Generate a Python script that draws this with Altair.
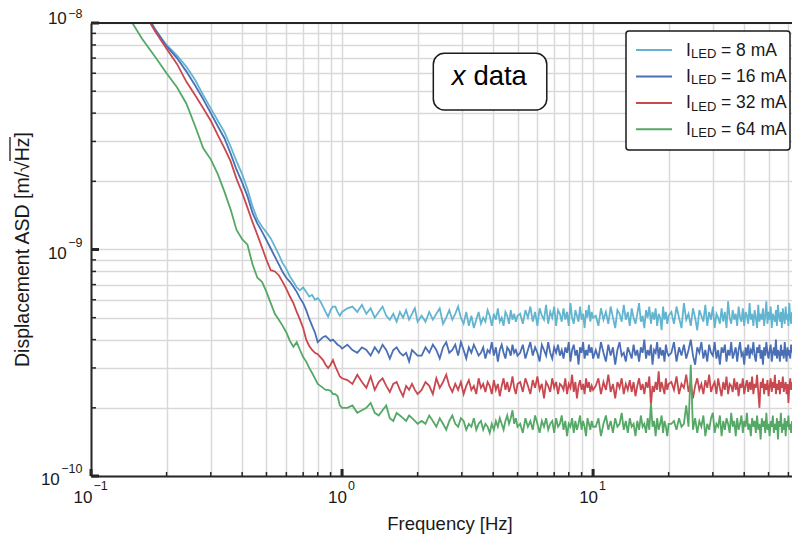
import altair as alt
import pandas as pd

# ---------------- data (ASD values in units of 1e-10 m/sqrt(Hz)) ----------------
FREQ_LOW = [0.12, 0.14, 0.16, 0.18, 0.20, 0.22, 0.24, 0.26, 0.28, 0.30,
            0.32, 0.34, 0.36, 0.38, 0.40, 0.42, 0.44, 0.46, 0.48, 0.50,
            0.52, 0.54, 0.56, 0.58, 0.60, 0.62, 0.64, 0.66, 0.68, 0.70,
            0.72, 0.74, 0.76, 0.78, 0.80, 0.82, 0.84, 0.86, 0.88, 0.90,
            0.92, 0.94, 0.96, 0.98, 1.00]
FREQ_B = [1.05, 1.10, 1.15, 1.20, 1.25, 1.30, 1.35, 1.40, 1.45, 1.50,
          1.55, 1.60, 1.65, 1.70, 1.75, 1.80, 1.85, 1.90, 1.95, 2.00]
FREQ_C = [2.075, 2.15, 2.225, 2.3, 2.375, 2.45, 2.525, 2.6, 2.675, 2.75,
          2.825, 2.9, 2.975, 3.05, 3.125, 3.2, 3.275, 3.35, 3.425, 3.5,
          3.575, 3.65, 3.725, 3.8, 3.875, 3.95, 4.025, 4.1, 4.175, 4.25,
          4.325, 4.4, 4.475, 4.55, 4.625, 4.7, 4.775, 4.85, 4.925, 5.0]
FREQ_D = [5.125, 5.25, 5.375, 5.5, 5.625, 5.75, 5.875, 6.0, 6.125, 6.25,
          6.375, 6.5, 6.625, 6.75, 6.875, 7.0, 7.125, 7.25, 7.375, 7.5,
          7.625, 7.75, 7.875, 8.0, 8.125, 8.25, 8.375, 8.5, 8.625, 8.75,
          8.875, 9.0, 9.125, 9.25, 9.375, 9.5, 9.625, 9.75, 9.875, 10.0]
FREQ_E = [10.25, 10.5, 10.75, 11.0, 11.25, 11.5, 11.75, 12.0, 12.25, 12.5,
          12.75, 13.0, 13.25, 13.5, 13.75, 14.0, 14.25, 14.5, 14.75, 15.0,
          15.25, 15.5, 15.75, 16.0, 16.25, 16.5, 16.75, 17.0, 17.25, 17.5,
          17.75, 18.0, 18.25, 18.5, 18.75, 19.0, 19.25, 19.5, 19.75, 20.0]
FREQ_F = [20.5, 21.0, 21.5, 22.0, 22.5, 23.0, 23.5, 24.0, 24.5, 25.0,
          25.5, 26.0, 26.5, 27.0, 27.5, 28.0, 28.5, 29.0, 29.5, 30.0,
          30.5, 31.0, 31.5, 32.0, 32.5, 33.0, 33.5, 34.0, 34.5, 35.0,
          35.5, 36.0, 36.5, 37.0, 37.5, 38.0, 38.5, 39.0, 39.5, 40.0,
          40.5, 41.0, 41.5, 42.0, 42.5, 43.0, 43.5, 44.0, 44.5, 45.0,
          45.5, 46.0, 46.5, 47.0, 47.5, 48.0, 48.5, 49.0, 49.5, 50.0,
          50.5, 51.0, 51.5, 52.0, 52.5, 53.0, 53.5, 54.0, 54.5, 55.0,
          55.5, 56.0, 56.5, 57.0, 57.5, 58.0, 58.5, 59.0, 59.5, 60.0,
          60.5, 61.0, 61.5, 62.0]

ASD_8MA = [
    195, 150, 114, 93, 80, 72, 64, 56, 48, 42,
    37, 33, 28.5, 24.5, 21.5, 18.5, 15.5, 13.6, 12.6, 11.9,
    11.2, 10.3, 9.5, 8.7, 8.2, 7.6, 7.2, 6.8, 6.6, 6.8,
    6.5, 6.2, 6.3, 6.0, 6.1, 5.9, 5.6, 5.3, 5.05, 5.4,
    5.6, 5.6, 5.3, 5.1, 5.3,
    5.5, 5.6, 5.3, 5.7, 5.2, 5.5, 5.0, 5.3, 5.6, 5.1,
    4.9, 5.2, 4.8, 5.3, 5.0, 5.4, 4.9, 5.2, 5.5, 4.8,
    5.1, 4.8, 5.3, 4.9, 5.2, 5.5, 4.7, 5.0, 5.4, 4.9,
    5.2, 5.6, 5.0, 4.7, 5.3, 4.6, 5.1, 4.5, 4.9, 5.3,
    4.7, 5.0, 4.8, 5.4, 5.1, 4.6, 5.2, 4.9, 5.5, 4.8,
    5.0, 4.6, 5.3, 5.1, 4.7, 5.4, 4.9, 5.2, 4.8, 5.1,
    5.2, 4.7, 5.4, 5.0, 5.6, 4.8, 5.3, 4.6, 5.5, 5.1,
    4.9, 5.7, 4.7, 5.3, 5.0, 5.6, 4.6, 5.4, 5.2, 4.8,
    5.5, 4.9, 5.3, 4.6, 5.8, 5.0, 4.7, 5.4, 5.1, 4.8,
    5.6, 4.9, 5.2, 4.5, 5.4, 5.0, 5.7, 4.8, 5.3, 5.0,
    5.1, 4.6, 5.5, 4.9, 5.3, 4.7, 5.6, 5.0, 4.5, 5.4,
    5.2, 4.8, 5.7, 4.9, 5.3, 4.6, 5.5, 5.0, 4.7, 5.2,
    5.8, 4.8, 5.1, 4.5, 5.4, 5.0, 5.6, 4.7, 5.3, 4.9,
    5.5, 4.6, 5.2, 5.0, 4.4, 5.6, 4.9, 5.3, 4.7, 5.1,
    5.3, 4.7, 5.6, 5.0, 4.5, 5.8, 4.9, 5.2, 4.6, 5.5,
    5.0, 4.4, 5.4, 5.1, 4.8, 5.7, 4.6, 5.3, 4.9, 5.6,
    4.5, 5.2, 5.0, 4.7, 5.5, 4.8, 5.3, 4.5, 5.9, 5.0,
    4.7, 5.4, 4.9, 5.2, 4.6, 5.6, 5.0, 4.8, 5.5, 4.6,
    5.3, 5.1, 4.7, 5.8, 4.9, 5.2, 4.6, 5.4, 5.0, 4.5,
    5.7, 4.8, 5.2, 4.9, 5.5, 4.6, 5.1, 5.9, 4.7, 5.3,
    4.9, 5.6, 4.5, 5.2, 5.0, 4.8, 5.4, 4.6, 5.7, 5.1,
    4.8, 5.3, 4.5, 5.5, 5.0, 4.7, 5.6, 4.9, 5.2, 4.6,
    5.8, 5.0, 4.7, 5.3]

ASD_16MA = [
    205, 155, 118, 94, 79, 70, 61, 53, 46, 40,
    35, 31, 26.5, 22.5, 19.8, 17.2, 14.5, 13.0, 12.0, 11.0,
    10.1, 9.3, 8.6, 7.95, 7.5, 7.2, 6.85, 6.5, 6.1, 5.8,
    5.4, 4.95, 4.6, 4.3, 3.9, 4.0, 4.1, 4.15, 4.05, 3.95,
    4.0, 3.9, 3.8, 3.75, 3.65,
    3.8, 3.6, 3.5, 3.7, 3.6, 3.4, 3.7, 3.5, 3.8, 3.6,
    3.3, 3.6, 3.7, 3.5, 3.4, 3.5, 3.2, 3.6, 3.5, 3.4,
    3.4, 3.7, 3.5, 3.8, 3.6, 3.3, 3.7, 3.9, 3.5, 3.6,
    3.8, 3.4, 3.9, 3.6, 3.3, 3.7, 3.5, 3.8, 3.6, 3.4,
    3.5, 3.7, 3.3, 3.6, 3.5, 3.9, 3.4, 3.7, 3.2, 3.6,
    3.8, 3.5, 3.3, 3.7, 3.6, 3.4, 3.8, 3.5, 3.6, 3.4,
    3.5, 3.8, 3.3, 3.6, 3.9, 3.4, 3.7, 3.5, 3.2, 3.8,
    3.6, 3.4, 3.9, 3.5, 3.3, 3.7, 3.5, 3.8, 3.4, 3.6,
    3.3, 3.7, 3.5, 3.9, 3.2, 3.6, 3.8, 3.4, 3.6, 3.1,
    3.7, 3.5, 3.9, 3.3, 3.6, 3.4, 3.8, 3.5, 3.7, 3.3,
    3.6, 3.3, 3.9, 3.5, 3.2, 3.8, 3.4, 3.7, 3.1, 3.6,
    3.9, 3.4, 3.5, 3.2, 3.7, 3.5, 3.3, 3.8, 3.4, 3.6,
    3.2, 3.7, 3.5, 4.0, 3.3, 3.6, 3.4, 3.8, 3.1, 3.6,
    3.5, 3.9, 3.3, 3.7, 3.4, 3.6, 3.2, 3.8, 3.5, 3.4,
    3.5, 3.9, 3.2, 3.7, 3.4, 3.8, 3.3, 3.6, 4.0, 3.4,
    3.1, 3.7, 3.5, 3.9, 3.3, 3.6, 3.2, 3.8, 3.5, 3.4,
    3.9, 3.3, 3.6, 3.1, 3.7, 3.5, 3.8, 3.2, 3.6, 3.4,
    3.9, 3.3, 3.5, 3.7, 3.2, 3.6, 3.9, 3.4, 3.5, 3.1,
    3.7, 3.4, 3.8, 3.3, 3.6, 3.5, 3.9, 3.4, 3.2, 3.7,
    3.5, 3.8, 3.3, 3.6, 3.1, 3.7, 3.4, 3.9, 3.5, 3.3,
    3.6, 3.8, 3.2, 3.5, 3.7, 3.4, 4.0, 3.3, 3.6, 3.5,
    3.2, 3.8, 3.4, 3.6, 3.3, 3.9, 3.5, 3.2, 3.7, 3.4,
    3.6, 3.3, 3.8, 3.5]

ASD_32MA = [
    200, 150, 115, 92, 77, 66, 55, 48, 42, 37,
    32, 28, 24.5, 20.5, 17.8, 15.3, 13.2, 11.6, 10.2, 9.0,
    8.1, 8.0, 7.7, 7.2, 6.7, 6.2, 5.8, 5.3, 4.9, 4.5,
    4.0, 3.75, 3.6, 3.5, 3.45, 3.35, 3.25, 3.1, 3.0, 3.1,
    3.25, 3.05, 2.9, 2.75, 2.7,
    2.65, 2.55, 2.8, 2.6, 2.45, 2.75, 2.4, 2.6, 2.7, 2.5,
    2.35, 2.55, 2.6, 2.4, 2.25, 2.5, 2.4, 2.55, 2.4, 2.3,
    2.4, 2.6, 2.5, 2.3, 2.7, 2.45, 2.6, 2.8, 2.5, 2.35,
    2.55, 2.4, 2.6, 2.3, 2.5, 2.65, 2.4, 2.5, 2.3, 2.7,
    2.45, 2.55, 2.35, 2.6, 2.5, 2.3, 2.65, 2.4, 2.55, 2.25,
    2.5, 2.7, 2.4, 2.6, 2.35, 2.5, 2.75, 2.45, 2.3, 2.55,
    2.6, 2.35, 2.7, 2.5, 2.3, 2.65, 2.45, 2.75, 2.4, 2.55,
    2.2, 2.6, 2.5, 2.35, 2.7, 2.45, 2.6, 2.3, 2.55, 2.5,
    2.4, 2.7, 2.3, 2.55, 2.45, 2.8, 2.35, 2.6, 2.2, 2.5,
    2.65, 2.4, 2.55, 2.3, 2.7, 2.45, 2.6, 2.35, 2.5, 2.4,
    2.5, 2.7, 2.3, 2.6, 2.4, 2.8, 2.35, 2.55, 2.2, 2.6,
    2.45, 2.7, 2.3, 2.55, 2.4, 2.65, 2.35, 2.6, 2.25, 2.5,
    2.7, 2.4, 2.55, 2.3, 2.6, 2.45, 2.75, 2.05, 2.5, 2.35,
    2.6, 2.4, 2.9, 2.35, 2.6, 2.45, 2.3, 2.7, 2.4, 2.55,
    2.6, 2.4, 2.75, 2.3, 2.55, 2.45, 2.8, 2.35, 2.6, 2.2,
    2.5, 2.7, 2.4, 2.55, 2.3, 2.65, 2.45, 2.8, 2.35, 2.5,
    2.6, 2.3, 2.7, 2.45, 2.25, 2.6, 2.4, 2.75, 2.3, 2.55,
    2.5, 2.35, 2.7, 2.4, 2.6, 2.25, 2.55, 2.45, 2.7, 2.3,
    2.5, 2.65, 2.35, 2.6, 2.4, 2.75, 2.3, 2.55, 2.45, 2.8,
    2.35, 2.0, 2.6, 2.45, 2.7, 2.3, 2.55, 2.4, 2.65, 2.25,
    2.5, 2.7, 2.35, 2.6, 2.45, 2.8, 2.3, 2.55, 2.4, 2.65,
    2.3, 2.6, 2.45, 2.75, 2.35, 2.5, 2.6, 2.3, 2.55, 2.1,
    2.5, 2.7, 2.4, 2.6]

ASD_64MA = [
    160, 108, 85, 71, 60, 52, 44, 35, 28, 25,
    21.5, 18, 15, 12.2, 11.1, 10.5, 8.6, 7.5, 7.2, 6.5,
    5.8, 5.2, 4.9, 4.6, 4.3, 3.95, 3.72, 3.9, 3.6, 3.35,
    3.2, 3.0, 2.85, 2.7, 2.55, 2.5, 2.45, 2.4, 2.4, 2.38,
    2.3, 2.3, 2.25, 2.05, 2.0,
    2.0, 2.05, 1.9, 1.95, 2.0, 2.1, 1.9, 1.85, 1.95, 2.05,
    1.8, 1.75, 1.9, 1.85, 1.8, 1.75, 1.85, 1.8, 1.75, 1.7,
    1.75, 1.7, 1.85, 1.75, 1.65, 1.8, 1.7, 1.6, 1.75, 1.85,
    1.7, 1.65, 1.8, 1.75, 1.6, 1.7, 1.65, 1.8, 1.6, 1.7,
    1.75, 1.6, 1.7, 1.65, 1.55, 1.7, 1.6, 1.75, 1.65, 1.8,
    1.7, 1.6, 1.75, 1.85, 1.7, 1.8, 1.95, 1.7, 1.8, 1.65,
    1.7, 1.55, 1.8, 1.65, 1.75, 1.6, 1.85, 1.7, 1.55, 1.75,
    1.65, 1.8, 1.6, 1.7, 1.75, 1.55, 1.8, 1.65, 1.7, 1.85,
    1.6, 1.75, 1.5, 1.7, 1.65, 1.8, 1.55, 1.75, 1.6, 1.7,
    1.85, 1.6, 1.75, 1.65, 1.5, 1.8, 1.7, 1.6, 1.75, 1.65,
    1.65, 1.8, 1.5, 1.7, 1.85, 1.6, 1.75, 1.55, 1.8, 1.65,
    1.7, 1.9, 1.6, 1.75, 1.55, 1.8, 1.65, 1.7, 1.5, 1.75,
    1.6, 1.85, 1.65, 1.7, 1.55, 1.8, 1.6, 2.1, 1.65, 1.75,
    1.5, 1.8, 1.6, 1.7, 1.85, 1.55, 1.75, 1.65, 1.5, 1.7,
    1.7, 1.75, 1.6, 1.8, 1.65, 1.7, 2.05, 1.65, 3.1, 1.6,
    1.8, 1.55, 1.75, 1.65, 1.85, 1.5, 1.7, 1.6, 1.8, 1.9,
    1.55, 1.7, 1.65, 1.85, 1.5, 1.75, 1.6, 1.8, 1.7, 1.55,
    1.9, 1.65, 1.75, 1.5, 1.8, 1.6, 1.7, 1.85, 1.55, 1.75,
    1.65, 1.9, 1.6, 1.7, 1.5, 1.8, 1.65, 1.75, 1.55, 1.85,
    1.6, 1.7, 1.45, 1.8, 1.65, 1.75, 1.55, 1.9, 1.6, 1.7,
    1.5, 1.75, 1.65, 1.85, 1.55, 1.7, 1.6, 1.8, 1.45, 1.75,
    1.65, 1.9, 1.55, 1.7, 1.6, 1.8, 1.5, 1.75, 1.65, 1.85,
    1.6, 1.7, 1.55, 1.75]

SERIES = ["8 mA", "16 mA", "32 mA", "64 mA"]
COLORS = ["#62b5d0", "#4a6fb5", "#c9484f", "#55a866"]

XGRID = [0.1, 0.2, 0.3, 0.4, 0.5, 0.6, 0.7, 0.8, 0.9,
         1, 2, 3, 4, 5, 6, 7, 8, 9, 10, 20, 30, 40, 50, 60]
YGRID = [1e-10, 2e-10, 3e-10, 4e-10, 5e-10, 6e-10, 7e-10, 8e-10, 9e-10,
         1e-9, 2e-9, 3e-9, 4e-9, 5e-9, 6e-9, 7e-9, 8e-9, 9e-9, 1e-8]
XMAJOR = [0.1, 1, 10]
YMAJOR = [1e-10, 1e-9, 1e-8]

# annotation box "x data" (data coordinates)
BOX_F = [2.31, 6.54]
BOX_V = [7.35e-9, 4.13e-9]
TXT_F = [2.735, 3.336]
TXT_V = 5.32e-9

# ---------------- build ----------------
FREQ = FREQ_LOW + FREQ_B + FREQ_C + FREQ_D + FREQ_E + FREQ_F
ALL = [ASD_8MA, ASD_16MA, ASD_32MA, ASD_64MA]
for a in ALL:
    assert len(a) == len(FREQ), (len(a), len(FREQ))

FONT = "Liberation Sans"
INK = "#1a1a1a"
W, H = 701, 453

xscale = alt.Scale(type="log", domain=[0.1, 62.0], nice=False)
yscale = alt.Scale(type="log", domain=[1e-10, 1e-8], nice=False)
xaxis = alt.Axis(values=XGRID, title=None, labels=False, ticks=False, grid=True,
                 gridColor="#d9d9d9", gridWidth=1.5, domain=True,
                 domainColor="#262626", domainWidth=2)
yaxis = alt.Axis(values=YGRID, title=None, labels=False, ticks=False, grid=True,
                 gridColor="#d9d9d9", gridWidth=1.5, domain=True,
                 domainColor="#262626", domainWidth=2)

X = lambda fld: alt.X(fld, scale=xscale, axis=xaxis)
Y = lambda fld: alt.Y(fld, scale=yscale, axis=yaxis)
one = pd.DataFrame({"k": [0]})

layers = []
for name, color, vals in zip(SERIES, COLORS, ALL):
    d = pd.DataFrame({"f": FREQ, "asd": [v * 1e-10 for v in vals]})
    layers.append(alt.Chart(d).mark_line(clip=True, strokeWidth=1.8, color=color)
                  .encode(x=X("f:Q"), y=Y("asd:Q")))

# ticks (inward)
xminor = pd.DataFrame({"t": [v for v in XGRID if v not in XMAJOR]})
xmajor = pd.DataFrame({"t": XMAJOR})
yminor = pd.DataFrame({"t": [v for v in YGRID if v not in YMAJOR]})
ymajor = pd.DataFrame({"t": YMAJOR})
layers.append(alt.Chart(xminor).mark_rule(color="#262626", strokeWidth=1.5)
              .encode(x=X("t:Q"), y=alt.value(H), y2=alt.value(H - 4)))
layers.append(alt.Chart(xmajor).mark_rule(color="#262626", strokeWidth=3)
              .encode(x=X("t:Q"), y=alt.value(H), y2=alt.value(H - 7)))
layers.append(alt.Chart(yminor).mark_rule(color="#262626", strokeWidth=1.5)
              .encode(y=Y("t:Q"), x=alt.value(0), x2=alt.value(5)))
layers.append(alt.Chart(ymajor).mark_rule(color="#262626", strokeWidth=3)
              .encode(y=Y("t:Q"), x=alt.value(0), x2=alt.value(8)))
# top border
layers.append(alt.Chart(one).mark_rule(color="#262626", strokeWidth=2)
              .encode(x=alt.value(0), x2=alt.value(W), y=alt.value(0)))

# x tick labels 10^n
for t, ex, bdx in [(0.1, "\u22121", 1.5), (1, "0", 5), (10, "1", 5)]:
    d = pd.DataFrame({"t": [t]})
    layers.append(alt.Chart(d).mark_text(text="10", font=FONT, fontSize=17, color=INK,
                                         align="right", baseline="alphabetic", dx=bdx)
                  .encode(x=X("t:Q"), y=alt.value(H + 26.5)))
    layers.append(alt.Chart(d).mark_text(text=ex, font=FONT, fontSize=12.5, color=INK,
                                         align="left", baseline="alphabetic", dx=bdx + 1)
                  .encode(x=X("t:Q"), y=alt.value(H + 14)))

# y tick labels 10^n
for t, ex, bdy, edy, ew in [(1e-8, "\u22128", 0.5, -5, 14.2), (1e-9, "\u22129", 9, -3, 14.2),
                            (1e-10, "\u221210", 9, -3, 21.2)]:
    d = pd.DataFrame({"t": [t]})
    layers.append(alt.Chart(d).mark_text(text=ex, font=FONT, fontSize=12.5, color=INK,
                                         align="right", baseline="alphabetic", dy=edy)
                  .encode(y=Y("t:Q"), x=alt.value(-8.5)))
    layers.append(alt.Chart(d).mark_text(text="10", font=FONT, fontSize=17, color=INK,
                                         align="right", baseline="alphabetic", dy=bdy)
                  .encode(y=Y("t:Q"), x=alt.value(-8.5 - ew - 1.5)))

# axis titles
layers.append(alt.Chart(one).mark_text(text="Frequency [Hz]", font=FONT, fontSize=18.5,
                                       color=INK, align="center", baseline="alphabetic")
              .encode(x=alt.value(359), y=alt.value(H + 53.5)))
layers.append(alt.Chart(one).mark_text(text="Displacement ASD [m/\u221aHz]", font=FONT,
                                       fontSize=19.5, color=INK, align="center",
                                       baseline="alphabetic", angle=270)
              .encode(x=alt.value(-62), y=alt.value(H / 2)))
# overline of the square root (over "Hz")
layers.append(alt.Chart(one).mark_rule(color=INK, strokeWidth=1.3)
              .encode(x=alt.value(-81), y=alt.value(114), y2=alt.value(138)))

# annotation box
box = pd.DataFrame({"f1": [BOX_F[0]], "f2": [BOX_F[1]], "v1": [BOX_V[0]], "v2": [BOX_V[1]]})
layers.append(alt.Chart(box).mark_rect(fill="white", stroke="#1a1a1a", strokeWidth=1.5,
                                       cornerRadius=11)
              .encode(x=X("f1:Q"), x2="f2:Q", y=Y("v1:Q"), y2="v2:Q"))
txt = pd.DataFrame({"f": TXT_F, "v": [TXT_V, TXT_V]})
layers.append(alt.Chart(txt.iloc[[0]]).mark_text(text="x", font=FONT, fontSize=27.5,
                                                 fontStyle="italic", color="black",
                                                 align="left", baseline="alphabetic")
              .encode(x=X("f:Q"), y=Y("v:Q")))
layers.append(alt.Chart(txt.iloc[[1]]).mark_text(text="data", font=FONT, fontSize=27.5,
                                                 color="black", align="left",
                                                 baseline="alphabetic")
              .encode(x=X("f:Q"), y=Y("v:Q")))

# legend (custom, for the subscript)
LX = -4
layers.append(alt.Chart(one).mark_rect(fill="white", stroke="#1a1a1a", strokeWidth=1.5,
                                       cornerRadius=3)
              .encode(x=alt.value(539 + LX), x2=alt.value(699), y=alt.value(8), y2=alt.value(127)))
for i, (name, color) in enumerate(zip(SERIES, COLORS)):
    ry = 27 + 26.45 * i
    layers.append(alt.Chart(one).mark_rule(color=color, strokeWidth=2)
                  .encode(x=alt.value(549 + LX), x2=alt.value(585 + LX), y=alt.value(ry)))
    layers.append(alt.Chart(one).mark_text(text="I", font=FONT, fontSize=17.5, color=INK,
                                           align="left", baseline="alphabetic")
                  .encode(x=alt.value(599 + LX), y=alt.value(ry + 5.5)))
    layers.append(alt.Chart(one).mark_text(text="LED", font=FONT, fontSize=13, color=INK,
                                           align="left", baseline="alphabetic")
                  .encode(x=alt.value(604 + LX), y=alt.value(ry + 7.8)))
    layers.append(alt.Chart(one).mark_text(text="= " + name, font=FONT, fontSize=17.5,
                                           color=INK, align="left", baseline="alphabetic")
                  .encode(x=alt.value(634 + LX), y=alt.value(ry + 5.5)))

chart = (alt.layer(*layers)
         .properties(width=W, height=H, autosize="none",
                     padding={"left": 83, "top": 15, "right": 0, "bottom": 58},
                     background="white")
         .configure_view(stroke=None))

chart.save("out.html", embed_options={"renderer": "svg", "actions": False})
